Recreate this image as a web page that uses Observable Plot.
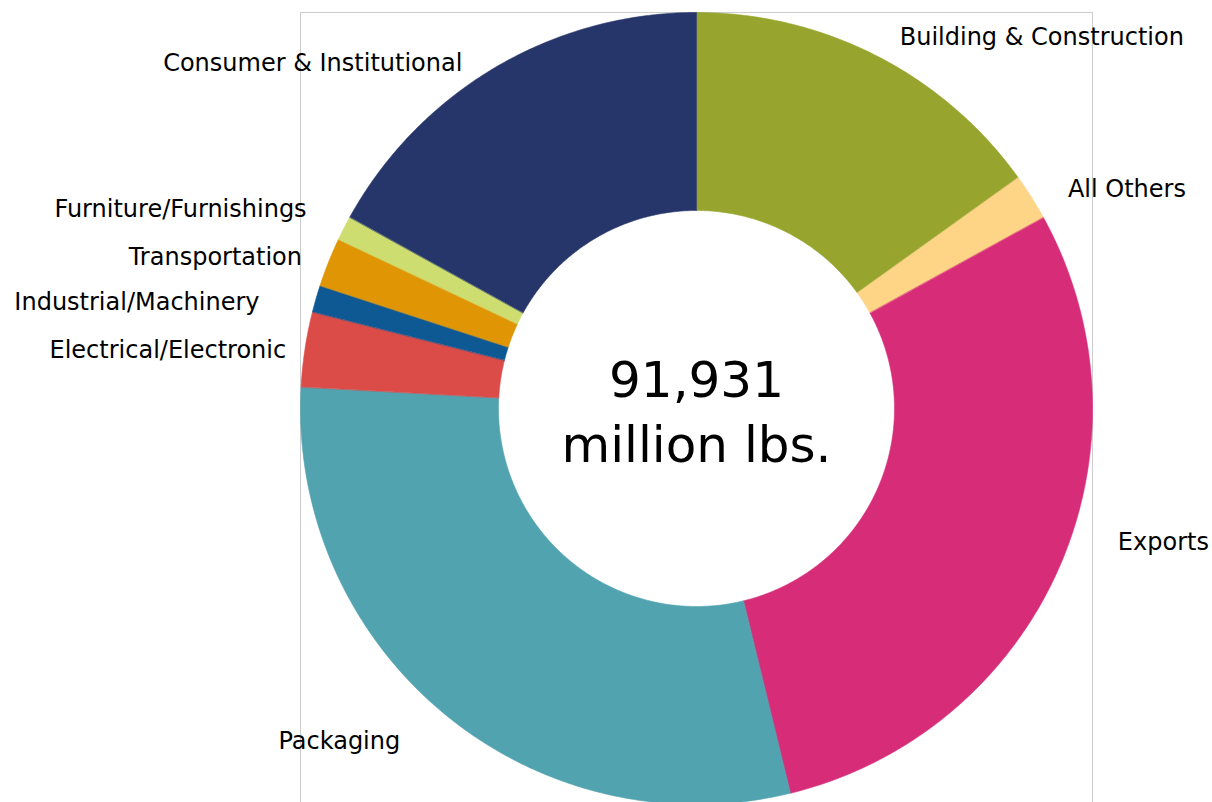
<!DOCTYPE html>
<html>
<head>
<meta charset="utf-8">
<script src="https://cdn.jsdelivr.net/npm/d3@7"></script>
<script src="https://cdn.jsdelivr.net/npm/@observablehq/plot@0.6"></script>
<style>
  html, body { margin: 0; padding: 0; background: #fff; }
  #chart { width: 1212px; height: 802px; overflow: hidden; }
</style>
</head>
<body>
<div id="chart"></div>
<script>
// ---- Data (million lbs.), clockwise from 12 o'clock ----
const categories = [
  "Building & Construction", "All Others", "Exports", "Packaging",
  "Electrical/Electronic", "Industrial/Machinery", "Transportation",
  "Furniture/Furnishings", "Consumer & Institutional"
];
const values = [13880, 1750, 26840, 27280, 2810, 1010, 1840, 920, 15601];
const colors = [
  "#97a42e", "#fed486", "#d72c78", "#50a3af",
  "#db4b48", "#0e5993", "#df9504", "#cedd6f", "#26366a"
];

// ---- Layout (label centres, in units of the outer radius) ----
const labelX = [0.872, 1.087, 1.179, -0.902, -1.335, -1.413, -1.215, -1.303, -0.969];
const labelY = [0.937, 0.553, -0.338, -0.841, 0.146, 0.268, 0.381, 0.503, 0.871];
const innerRatio = 0.5;

// ---- Build slices ----
const table = categories.map((name, i) => ({name, value: values[i], lx: labelX[i], ly: labelY[i]}));
const arcs = d3.pie().sort(null).value(d => d.value).startAngle(0).endAngle(2 * Math.PI)(table);
const pts = [];
for (const a of arcs) {
  const n = Math.max(2, Math.ceil((a.endAngle - a.startAngle) / (Math.PI / 360)));
  for (let k = 0; k <= n; k++) {
    const t = a.startAngle + (a.endAngle - a.startAngle) * k / n;
    pts.push({name: a.data.name, x: Math.sin(t), y: Math.cos(t)});
  }
  for (let k = n; k >= 0; k--) {
    const t = a.startAngle + (a.endAngle - a.startAngle) * k / n;
    pts.push({name: a.data.name, x: innerRatio * Math.sin(t), y: innerRatio * Math.cos(t)});
  }
}
const total = d3.sum(values);

const chart = Plot.plot({
  width: 1212,
  height: 802,
  marginLeft: 300,
  marginRight: 120,
  marginTop: 12,
  marginBottom: -2,
  style: {fontFamily: "'DejaVu Sans', sans-serif", background: "#fff"},
  x: {domain: [-1, 1], axis: null},
  y: {domain: [-1, 1], axis: null},
  color: {domain: categories, range: colors},
  marks: [
    Plot.frame({stroke: "#cccccc"}),
    Plot.line(pts, {x: "x", y: "y", z: "name", fill: "name", stroke: "name", strokeWidth: 0.6, curve: "linear-closed"}),
    Plot.text(table, {x: "lx", y: "ly", text: "name", fontSize: 24, fill: "#000", textAnchor: "middle", lineAnchor: "middle"}),
    Plot.text([`${d3.format(",")(total)}\nmillion lbs.`], {x: () => 0, y: () => 0, text: d => d, fontSize: 50, lineHeight: 1.3, fill: "#000", textAnchor: "middle", lineAnchor: "middle"})
  ]
});
document.getElementById("chart").appendChild(chart);
</script>
</body>
</html>
